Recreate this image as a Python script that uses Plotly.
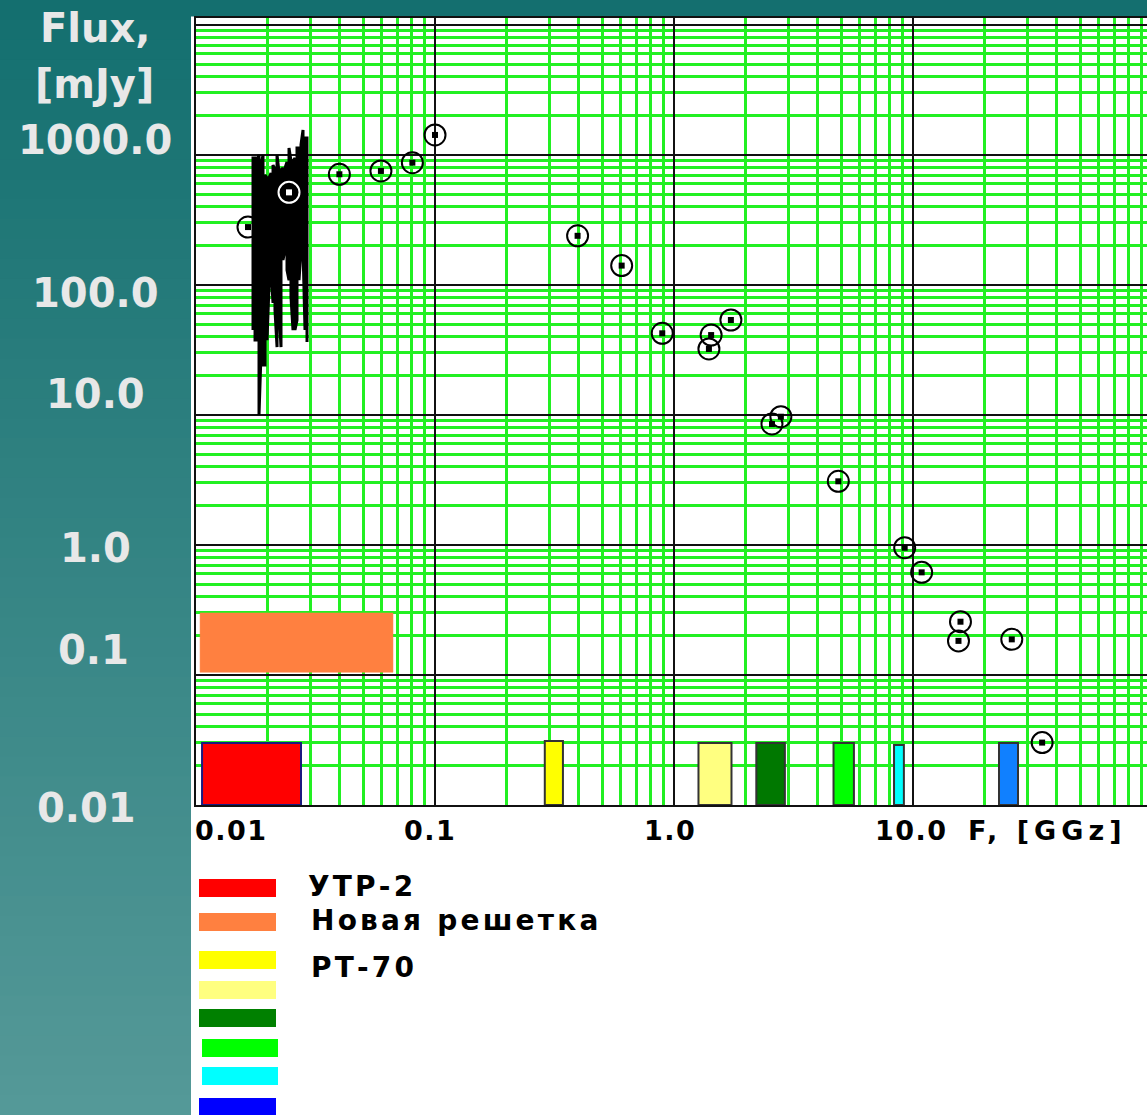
import plotly.graph_objects as go

# ---------------- data ----------------
# measured points: frequency [GHz], flux [mJy]
point_freq = [0.0165, 0.0398, 0.0594, 0.0804, 0.100, 0.395, 0.604, 0.893, 1.43, 1.40,
              1.73, 2.57, 2.80, 4.87, 9.23, 10.87, 15.8, 15.5, 25.9, 34.7]
point_flux = [279, 711, 754, 873, 1426, 239, 141, 42.5, 41.2, 32.2,
              53.8, 8.53, 9.70, 3.09, 0.953, 0.616, 0.257, 0.183, 0.188, 0.0302]
# point hidden inside the UTR-2 record
hidden_freq = [0.0245]
hidden_flux = [516]

# dense UTR-2 spectrum record: frequency, upper and lower excursion
noise_freq = [0.01732, 0.01766, 0.0180, 0.01835, 0.0187, 0.01907, 0.01944, 0.01982,
              0.0202, 0.0206, 0.0210, 0.0214, 0.02183, 0.02225, 0.02268, 0.02312,
              0.02357, 0.02403, 0.0245, 0.02497, 0.02546, 0.02595, 0.02646, 0.02698,
              0.0275, 0.02804, 0.02858, 0.02914]
noise_hi = [948, 948, 920, 1000, 837, 1000, 702, 665,
            665, 727, 837, 767, 1000, 740, 767, 794,
            794, 884, 1132, 900, 900, 948, 1132, 1132,
            1200, 1557, 1351, 1351]
noise_lo = [45.0, 37.7, 37.7, 10.0, 28.9, 24.2, 24.2, 37.7,
            96.5, 130, 72.7, 64.2, 33.3, 64.2, 33.3, 156,
            186, 130, 109, 80.9, 45.0, 45.0, 53.8, 109,
            186, 186, 45.0, 36.4]

# observing bands (bars at the bottom)
band_lo = [0.0106, 0.288, 1.266, 2.21, 4.65, 8.33, 22.9]
band_hi = [0.0275, 0.343, 1.74, 2.91, 5.66, 9.16, 27.5]
band_top = [0.030, 0.031, 0.030, 0.030, 0.030, 0.029, 0.030]
band_colors = ["#ff0000", "#ffff00", "#ffff80", "#007800", "#00ff00", "#00ffff", "#1080ff"]
band_edge = ["#1a1a80", "#333333", "#333333", "#333333", "#333333", "#333333", "#333333"]

# "new array" sensitivity box
ngr_freq = [0.0104, 0.0667]
ngr_flux = [0.105, 0.30]
ngr_color = "#ff8040"

# custom legend
legend_colors = ["#ff0000", "#ff8040", "#ffff00", "#ffff80", "#008000", "#00ff00", "#00ffff", "#0000ff"]
legend_labels = ["УТР-2", "Новая решетка", "РТ-70"]

# axis texts
y_title = ["Flux,", "[mJy]"]
y_tick_labels = ["1000.0", "100.0", "10.0", "1.0", "0.1", "0.01"]
x_tick_labels = ["0.01", "0.1", "1.0", "10.0"]
x_title = "F, [GGz]"

# ---------------- layout geometry (pixels) ----------------
W, H = 1147, 1115
L, R, T, B = 196, 0, 18, 310
PW = W - L - R
PH = H - T - B


def px(x):
    return (x - L) / PW


def py(y):
    return (H - B - y) / PH


def spaced(s, sp):
    return '<span style="letter-spacing:%gpx">%s</span>' % (sp, s)


fig = go.Figure()

# bands
for lo, hi, top, c, e in zip(band_lo, band_hi, band_top, band_colors, band_edge):
    fig.add_trace(go.Scatter(
        x=[lo, hi, hi, lo, lo], y=[0.01, 0.01, top, top, 0.01],
        mode="lines", fill="toself", fillcolor=c,
        line=dict(color=e, width=2), hoverinfo="skip", showlegend=False))

# orange box
fig.add_trace(go.Scatter(
    x=[ngr_freq[0], ngr_freq[1], ngr_freq[1], ngr_freq[0], ngr_freq[0]],
    y=[ngr_flux[0], ngr_flux[0], ngr_flux[1], ngr_flux[1], ngr_flux[0]],
    mode="lines", fill="toself", fillcolor=ngr_color,
    line=dict(color=ngr_color, width=0.5), hoverinfo="skip", showlegend=False))

# dense spectrum record
nx, ny = [], []
for i, (f, hi, lo) in enumerate(zip(noise_freq, noise_hi, noise_lo)):
    nx += [f, f]
    ny += [lo, hi] if i % 2 == 0 else [hi, lo]
fig.add_trace(go.Scatter(x=nx, y=ny, mode="lines",
                         line=dict(color="black", width=3),
                         hoverinfo="skip", showlegend=False))

# points
fig.add_trace(go.Scatter(x=point_freq, y=point_flux, mode="markers",
                         marker=dict(symbol="circle-open", size=21,
                                     line=dict(color="black", width=2), color="black"),
                         showlegend=False))
fig.add_trace(go.Scatter(x=point_freq, y=point_flux, mode="markers",
                         marker=dict(symbol="square", size=6, color="black"),
                         showlegend=False))
fig.add_trace(go.Scatter(x=hidden_freq, y=hidden_flux, mode="markers",
                         marker=dict(symbol="circle-open", size=21,
                                     line=dict(color="white", width=2), color="white"),
                         showlegend=False))
fig.add_trace(go.Scatter(x=hidden_freq, y=hidden_flux, mode="markers",
                         marker=dict(symbol="square", size=6, color="white"),
                         showlegend=False))

# ---------------- background: teal slide gradient ----------------
shapes = []
top_rgb = (19, 111, 111)
bot_rgb = (85, 153, 152)
N = 56
for k in range(N):
    y0 = k * H / N
    y1 = (k + 1) * H / N + 1
    t = (k + 0.5) / N
    c = tuple(int(round(a + (b - a) * t)) for a, b in zip(top_rgb, bot_rgb))
    col = "rgb(%d,%d,%d)" % c
    shapes.append(dict(type="rect", xref="paper", yref="paper",
                       x0=px(0), x1=px(191), y0=py(y1), y1=py(y0),
                       fillcolor=col, line=dict(width=0), layer="below"))
    if y0 < 17:
        shapes.append(dict(type="rect", xref="paper", yref="paper",
                           x0=px(190), x1=px(W), y0=py(min(y1, 16.5)), y1=py(y0),
                           fillcolor=col, line=dict(width=0), layer="below"))

# legend swatches
sw_x = [(199, 276)] * 5 + [(202, 278)] * 2 + [(199, 276)]
sw_y = [(879, 897), (913, 931), (951, 969), (981, 999), (1009, 1027),
        (1039, 1057), (1067, 1085), (1098, 1116)]
for (x0, x1), (y0, y1), c in zip(sw_x, sw_y, legend_colors):
    shapes.append(dict(type="rect", xref="paper", yref="paper",
                       x0=px(x0), x1=px(x1), y0=py(y1), y1=py(y0),
                       fillcolor=c, line=dict(width=0), layer="above"))

annotations = []
lab_font = dict(family="DejaVu Sans", size=40, color="#e8e8e8", weight="bold")
yt_pos = [(95, 28), (94, 84)]
for s, (x, y) in zip(y_title, yt_pos):
    annotations.append(dict(text=s, x=px(x), y=py(y), xref="paper", yref="paper",
                            showarrow=False, xanchor="center", yanchor="middle", font=lab_font))
yl_pos = [(95, 140), (95, 293), (95, 394), (95, 548), (93, 650), (86, 808)]
for s, (x, y) in zip(y_tick_labels, yl_pos):
    annotations.append(dict(text=s, x=px(x), y=py(y), xref="paper", yref="paper",
                            showarrow=False, xanchor="center", yanchor="middle", font=lab_font))

ax_font = dict(family="DejaVu Sans", size=27, color="black", weight="bold")
xl_pos = [(193, "left"), (430, "center"), (670, "center"), (911, "center")]
for s, (x, anc) in zip(x_tick_labels, xl_pos):
    annotations.append(dict(text=spaced(s, 1.5), x=px(x), y=py(831), xref="paper", yref="paper",
                            showarrow=False, xanchor=anc, yanchor="middle", font=ax_font))
annotations.append(dict(text=spaced(x_title, 5), x=px(966), y=py(831), xref="paper", yref="paper",
                        showarrow=False, xanchor="left", yanchor="middle", font=ax_font))

leg_font = dict(family="DejaVu Sans", size=28, color="black", weight="bold")
leg_pos = [(306, 886), (309, 920), (309, 967)]
for s, (x, y) in zip(legend_labels, leg_pos):
    annotations.append(dict(text=spaced(s, 3.2), x=px(x), y=py(y), xref="paper", yref="paper",
                            showarrow=False, xanchor="left", yanchor="middle", font=leg_font))

GREEN = "#22f022"
axis_common = dict(type="log", showticklabels=False, ticks="",
                   showgrid=True, gridcolor="#111111", gridwidth=2,
                   zeroline=False, dtick=1,
                   minor=dict(dtick="D1", showgrid=True, gridcolor=GREEN, gridwidth=2.5, ticks=""))

fig.update_layout(
    width=W, height=H,
    margin=dict(l=L, r=R, t=T, b=B, pad=0),
    paper_bgcolor="white", plot_bgcolor="white",
    showlegend=False,
    xaxis=dict(range=[-2, -2 + PW / 239.0], showline=True, linecolor="#111111",
               linewidth=2, mirror=True, **axis_common),
    yaxis=dict(range=[-2, -2 + PH / 130.0], showline=True, linecolor="#111111",
               linewidth=2, mirror=False, **axis_common),
    shapes=shapes, annotations=annotations,
)

fig.write_html("out.html", config={"displayModeBar": False},
               post_script="document.body.style.margin='0';document.body.style.overflow='hidden';")
